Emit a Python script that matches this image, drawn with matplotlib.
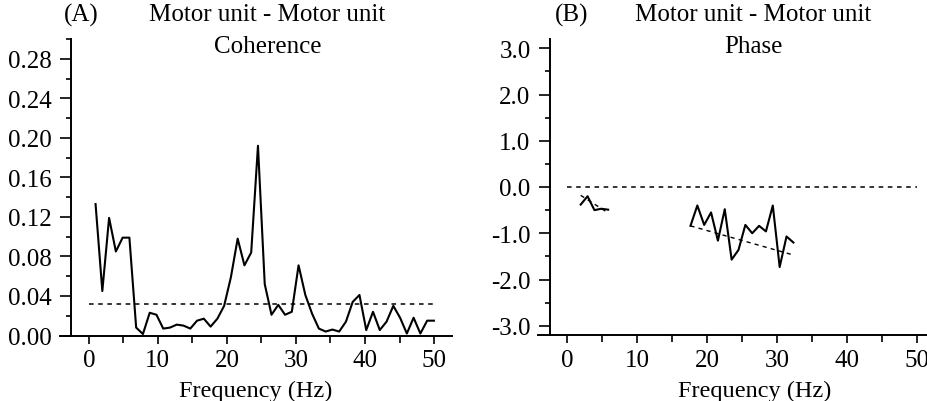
import numpy as np
import matplotlib.pyplot as plt
from matplotlib.ticker import MultipleLocator, FuncFormatter

plt.rcParams['font.family'] = ['Liberation Serif', 'DejaVu Serif']

# frequency bins (Hz)
freq = [0.98, 1.96, 2.94, 3.92, 4.90, 5.88, 6.86, 7.84, 8.82, 9.80,
        10.78, 11.76, 12.74, 13.72, 14.70, 15.68, 16.66, 17.64, 18.62, 19.60,
        20.58, 21.56, 22.54, 23.52, 24.50, 25.48, 26.46, 27.44, 28.42, 29.40,
        30.38, 31.36, 32.34, 33.32, 34.30, 35.28, 36.26, 37.24, 38.22, 39.20,
        40.18, 41.16, 42.14, 43.12, 44.10, 45.08, 46.06, 47.04, 48.02, 49.00,
        49.98]

coherence = [0.133, 0.045, 0.119, 0.085, 0.099, 0.099, 0.008, 0.0015, 0.023, 0.021,
             0.007, 0.008, 0.011, 0.010, 0.007, 0.015, 0.017, 0.009, 0.017, 0.030,
             0.059, 0.098, 0.071, 0.084, 0.192, 0.052, 0.021, 0.031, 0.021, 0.024,
             0.071, 0.041, 0.022, 0.007, 0.004, 0.006, 0.004, 0.014, 0.034, 0.041,
             0.0055, 0.024, 0.0055, 0.014, 0.030, 0.018, 0.002, 0.018, 0.002, 0.015,
             0.015]
conf_level = 0.032

# phase, only where coherence is significant
phase_f1 = [1.96, 2.94, 3.92, 4.90, 5.88]
phase_v1 = [-0.38, -0.20, -0.50, -0.47, -0.49]
fit_f1 = [1.96, 5.88]
fit_v1 = [-0.18, -0.56]

phase_f2 = [17.64, 18.62, 19.60, 20.58, 21.56, 22.54, 23.52, 24.50,
            25.48, 26.46, 27.44, 28.42, 29.40, 30.38, 31.36, 32.34]
phase_v2 = [-0.84, -0.40, -0.82, -0.55, -1.16, -0.48, -1.57, -1.36,
            -0.82, -1.00, -0.84, -0.96, -0.40, -1.73, -1.07, -1.20]
fit_f2 = [17.64, 32.34]
fit_v2 = [-0.84, -1.47]

W, H = 928, 402
fig = plt.figure(figsize=(W / 100, H / 100), dpi=100)

FS = 18      # tick labels / titles
LFS = 17.5   # axis labels
dash = (0, (3, 3))


def px_axes(x0, x1, y0, y1):
    return fig.add_axes([x0 / W, 1 - y1 / H, (x1 - x0) / W, (y1 - y0) / H])


def style(ax, spine_x):
    ax.spines['top'].set_visible(False)
    ax.spines['right'].set_visible(False)
    ax.spines['left'].set_position(('data', spine_x))
    ax.spines['left'].set_linewidth(1.4)
    ax.spines['bottom'].set_linewidth(1.4)
    ax.xaxis.set_major_locator(MultipleLocator(10))
    ax.xaxis.set_minor_locator(MultipleLocator(5))
    ax.tick_params(which='major', direction='out', width=1.2, labelsize=FS)
    ax.tick_params(axis='y', which='major', length=8, pad=6)
    ax.tick_params(axis='y', which='minor', length=3.5, width=1.2)
    ax.tick_params(axis='x', which='major', length=6, pad=4)
    ax.tick_params(axis='x', which='minor', length=5, width=1.2)
    ax.set_xticks([0, 10, 20, 30, 40, 50])


# (A) coherence
axA = px_axes(60, 452, 40, 336.5)
axA.set_xlim(-4.17, 52.6)
axA.set_ylim(0, 0.30)
style(axA, -2.58)
axA.yaxis.set_major_locator(MultipleLocator(0.04))
axA.yaxis.set_minor_locator(MultipleLocator(0.02))
axA.yaxis.set_major_formatter(FuncFormatter(lambda v, p: '%.2f' % v))
axA.set_yticks(np.arange(0, 0.29, 0.04))
axA.plot(freq, coherence, color='black', lw=1.5, clip_on=False)
axA.plot([0, 50], [conf_level, conf_level], color='black', lw=1.1, ls=dash)
axA.set_xlabel('Frequency (Hz)', fontsize=LFS)
axA.xaxis.set_label_coords(0.50, -0.15)

# (B) phase
axB = px_axes(538, 928, 40, 336)
axB.set_xlim(-4.14, 51.57)
axB.set_ylim(-3.2, 3.2)
style(axB, -2.43)
axB.yaxis.set_major_locator(MultipleLocator(1.0))
axB.yaxis.set_minor_locator(MultipleLocator(0.5))
axB.yaxis.set_major_formatter(FuncFormatter(lambda v, p: ('%.1f' % v).replace('\u2212', '-')))
axB.set_yticks(np.arange(-3, 3.1, 1.0))
axB.plot([0, 50], [0, 0], color='black', lw=1.1, ls=dash)
axB.plot(phase_f1, phase_v1, color='black', lw=1.5)
axB.plot(fit_f1, fit_v1, color='black', lw=1.0, ls=dash)
axB.plot(phase_f2, phase_v2, color='black', lw=1.5)
axB.plot(fit_f2, fit_v2, color='black', lw=1.0, ls=dash)
axB.set_xlabel('Frequency (Hz)', fontsize=LFS)
axB.xaxis.set_label_coords(0.556, -0.15)

# titles
fig.text(81 / W, 1 - 15 / H, '(A)', fontsize=FS, ha='center', va='center')
fig.text(267.5 / W, 1 - 15 / H, 'Motor unit - Motor unit', fontsize=FS, ha='center', va='center')
fig.text(267.5 / W, 1 - 47 / H, 'Coherence', fontsize=FS, ha='center', va='center')
fig.text(572 / W, 1 - 15 / H, '(B)', fontsize=FS, ha='center', va='center')
fig.text(753 / W, 1 - 15 / H, 'Motor unit - Motor unit', fontsize=FS, ha='center', va='center')
fig.text(753 / W, 1 - 47 / H, 'Phase', fontsize=FS, ha='center', va='center')

fig.savefig('out.png', dpi=100)
